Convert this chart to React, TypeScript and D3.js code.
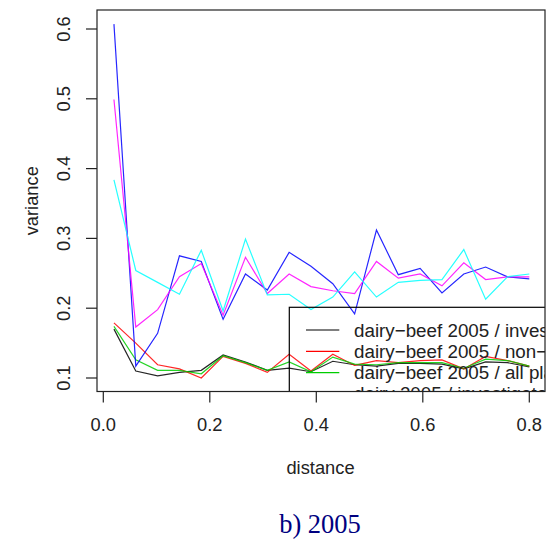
import React from "react";
import * as d3 from "d3";

const distances = [0.02, 0.061, 0.102, 0.143, 0.184, 0.225, 0.267, 0.308, 0.349, 0.39, 0.431, 0.472, 0.513, 0.554, 0.595, 0.636, 0.677, 0.718, 0.759, 0.8];

const dairyBeefInvestigated = [0.17, 0.11, 0.103, 0.108, 0.111, 0.133, 0.123, 0.111, 0.114, 0.109, 0.124, 0.119, 0.117, 0.121, 0.121, 0.12, 0.113, 0.123, 0.122, 0.116];
const dairyBeefNonInvestigated = [0.179, 0.15, 0.119, 0.113, 0.1, 0.131, 0.121, 0.108, 0.134, 0.11, 0.134, 0.118, 0.125, 0.122, 0.125, 0.126, 0.113, 0.131, 0.125, 0.117];
const dairyBeefAll = [0.174, 0.126, 0.111, 0.111, 0.106, 0.132, 0.122, 0.111, 0.123, 0.109, 0.13, 0.12, 0.119, 0.122, 0.122, 0.122, 0.114, 0.127, 0.125, 0.117];
const dairyInvestigated = [0.607, 0.117, 0.164, 0.275, 0.267, 0.184, 0.249, 0.226, 0.28, 0.26, 0.235, 0.192, 0.312, 0.248, 0.257, 0.222, 0.249, 0.259, 0.245, 0.242];
const dairyNonInvestigated = [0.499, 0.173, 0.198, 0.245, 0.264, 0.19, 0.273, 0.221, 0.249, 0.231, 0.225, 0.221, 0.267, 0.243, 0.249, 0.232, 0.265, 0.241, 0.245, 0.245];
const dairyAll = [0.384, 0.254, 0.237, 0.22, 0.283, 0.196, 0.299, 0.219, 0.22, 0.198, 0.216, 0.252, 0.216, 0.237, 0.24, 0.241, 0.284, 0.213, 0.245, 0.249];

const seriesNames = [
  "dairy\u2212beef 2005 / investigated",
  "dairy\u2212beef 2005 / non\u2212investigated",
  "dairy\u2212beef 2005 / all places",
  "dairy 2005 / investigated",
  "dairy 2005 / non\u2212investigated",
  "dairy 2005 / all places",
];
const seriesValues = [dairyBeefInvestigated, dairyBeefNonInvestigated, dairyBeefAll, dairyInvestigated, dairyNonInvestigated, dairyAll];
const seriesColors = ["#000000", "#ff0000", "#00cd00", "#0000ff", "#ff00ff", "#00ffff"];

const xTicks = [0.0, 0.2, 0.4, 0.6, 0.8];
const yTicks = [0.1, 0.2, 0.3, 0.4, 0.5, 0.6];

export default function App() {
  const x = d3.scaleLinear().domain([0, 0.8]).range([103.3, 529.3]);
  const y = d3.scaleLinear().domain([0.1, 0.6]).range([378, 29]);
  const box = { left: 97, right: 545, top: 10, bottom: 391.5 };
  const line = d3
    .line<number>()
    .x((_, i) => x(distances[i]))
    .y((d) => y(d));
  const sans = "'Liberation Sans', Arial, sans-serif";
  const fs = 18.3;
  const legendFs = 18.8;
  const legendTop = 307.3;
  const legendLeft = 289.3;
  const rowH = 21.3;
  const legendRows = seriesNames
    .map((name, i) => ({ name, i, cy: legendTop + 22.7 + i * rowH }))
    .filter((r) => r.cy - 12 < box.bottom);
  return (
    <svg
      width={550}
      height={541}
      style={{ position: "absolute", left: 0, top: 0, background: "#fff" }}
      fontFamily={sans}
    >
      <defs>
        <clipPath id="plotclip">
          <rect x={box.left} y={box.top} width={box.right - box.left} height={box.bottom - box.top} />
        </clipPath>
      </defs>
      <rect x={0} y={0} width={550} height={541} fill="#fff" />
      <g clipPath="url(#plotclip)">
        {seriesValues.map((vals, i) => (
          <path key={i} d={line(vals) || ""} fill="none" stroke={seriesColors[i]} strokeWidth={1.2} strokeOpacity={0.85} />
        ))}
        <g>
          <rect x={legendLeft} y={legendTop} width={420} height={6 * rowH + 20} fill="none" stroke="#000" strokeWidth={1.2} />
          {legendRows.map((r) => (
            <g key={r.i}>
              <line x1={306} x2={339.3} y1={r.cy} y2={r.cy} stroke={seriesColors[r.i]} strokeWidth={1.2} />
              <text x={354} y={r.cy} dy="0.35em" fontSize={legendFs} fill="#222">
                {r.name}
              </text>
            </g>
          ))}
        </g>
      </g>
      <rect x={box.left} y={box.top} width={box.right - box.left} height={box.bottom - box.top} fill="none" stroke="#222" strokeWidth={1.2} />
      {xTicks.map((t) => (
        <g key={t}>
          <line x1={x(t)} x2={x(t)} y1={box.bottom} y2={box.bottom + 11} stroke="#222" strokeWidth={1.2} />
          <text x={x(t)} y={431} textAnchor="middle" fontSize={fs} fill="#222">
            {t.toFixed(1)}
          </text>
        </g>
      ))}
      {yTicks.map((t) => (
        <g key={t}>
          <line x1={box.left - 11} x2={box.left} y1={y(t)} y2={y(t)} stroke="#222" strokeWidth={1.2} />
          <text transform={`translate(70,${y(t)}) rotate(-90)`} textAnchor="middle" fontSize={fs} fill="#222">
            {t.toFixed(1)}
          </text>
        </g>
      ))}
      <text x={320.5} y={474} textAnchor="middle" fontSize={fs} fill="#222">
        distance
      </text>
      <text transform={`translate(38,${(box.top + box.bottom) / 2}) rotate(-90)`} textAnchor="middle" fontSize={fs} fill="#222">
        variance
      </text>
      <text x={320} y={532.5} textAnchor="middle" fontSize={26.5} fill="#000080" fontFamily="'Liberation Serif', 'Times New Roman', serif">
        b) 2005
      </text>
    </svg>
  );
}
